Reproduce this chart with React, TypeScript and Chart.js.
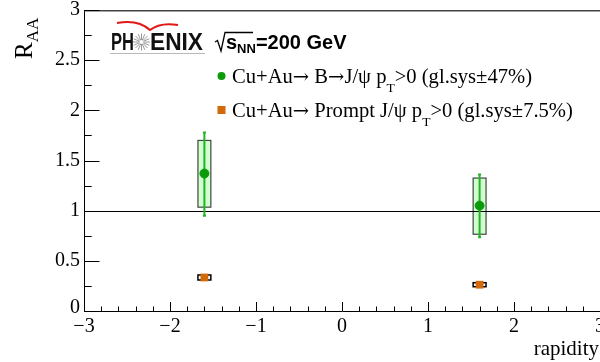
import React, { useEffect, useRef } from "react";
import { Chart, registerables } from "chart.js";
Chart.register(...registerables);

// ---- data ----
const rapidity = [-1.6, 1.6];
const bRAA = [1.37, 1.05];
const bStatLo = [0.95, 0.735];
const bStatHi = [1.78, 1.36];
const bSysLo = [1.035, 0.765];
const bSysHi = [1.7, 1.325];
const pRAA = [0.334, 0.262];
const pSysLo = [0.309, 0.242];
const pSysHi = [0.359, 0.282];
const sysHalfWidth = 0.075;

const xMajorTicks = [-3, -2, -1, 0, 1, 2, 3];
const xTickLabels = ["\u22123", "\u22122", "\u22121", "0", "1", "2", "3"];
const yMajorTicks = [0, 0.5, 1, 1.5, 2, 2.5, 3];
const yTickLabels = ["0", "0.5", "1", "1.5", "2", "2.5", "3"];

// legend segments: [text, kind] kind: n = normal, a = arrow, s = subscript
const legend1: [string, string][] = [
  ["Cu+Au", "n"], ["\u2192", "a"], [" B", "n"], ["\u2192", "a"], ["J/\u03c8 p", "n"], ["T", "s"], [">0 (gl.sys\u00b147%)", "n"],
];
const legend2: [string, string][] = [
  ["Cu+Au", "n"], ["\u2192", "a"], [" Prompt J/\u03c8 p", "n"], ["T", "s"], [">0 (gl.sys\u00b17.5%)", "n"],
];

const GREEN = "#0a9a0a";
const GREEN_BAR = "#22b422";
const GREEN_BOX = "rgba(200,255,200,0.85)";
const ORANGE = "#d2690a";
const SERIF = "'Liberation Serif', 'Times New Roman', serif";
const SANS = "'Liberation Sans', Arial, sans-serif";
const ARROWF = "'DejaVu Serif', serif";

const drawPlugin = {
  id: "rootStyle",
  beforeDatasetsDraw(chart: any) {
    const ctx = chart.ctx as CanvasRenderingContext2D;
    const xs = chart.scales.x;
    const ys = chart.scales.y;
    ctx.save();
    for (let i = 0; i < rapidity.length; i++) {
      const x0 = xs.getPixelForValue(rapidity[i] - sysHalfWidth);
      const x1 = xs.getPixelForValue(rapidity[i] + sysHalfWidth);
      const y0 = ys.getPixelForValue(bSysHi[i]);
      const y1 = ys.getPixelForValue(bSysLo[i]);
      ctx.fillStyle = GREEN_BOX;
      ctx.fillRect(x0, y0, x1 - x0, y1 - y0);
      ctx.strokeStyle = "#444";
      ctx.lineWidth = 1.2;
      ctx.strokeRect(x0, y0, x1 - x0, y1 - y0);
    }
    for (let i = 0; i < rapidity.length; i++) {
      const x0 = xs.getPixelForValue(rapidity[i] - sysHalfWidth);
      const x1 = xs.getPixelForValue(rapidity[i] + sysHalfWidth);
      const y0 = ys.getPixelForValue(pSysHi[i]);
      const y1 = ys.getPixelForValue(pSysLo[i]);
      ctx.fillStyle = "#fff";
      ctx.fillRect(x0, y0, x1 - x0, y1 - y0);
      ctx.strokeStyle = "#000";
      ctx.lineWidth = 1.5;
      ctx.strokeRect(x0, y0, x1 - x0, y1 - y0);
    }
    ctx.strokeStyle = "#000";
    ctx.lineWidth = 1;
    const y1p = Math.round(ys.getPixelForValue(1)) + 0.5;
    ctx.beginPath();
    ctx.moveTo(chart.chartArea.left, y1p);
    ctx.lineTo(chart.chartArea.right, y1p);
    ctx.stroke();
    for (let i = 0; i < rapidity.length; i++) {
      const x = xs.getPixelForValue(rapidity[i]);
      const ya = ys.getPixelForValue(bStatHi[i]);
      const yb = ys.getPixelForValue(bStatLo[i]);
      ctx.strokeStyle = GREEN_BAR;
      ctx.lineWidth = 2;
      ctx.beginPath();
      ctx.moveTo(x, ya);
      ctx.lineTo(x, yb);
      ctx.stroke();
      ctx.beginPath();
      ctx.moveTo(x - 1.5, ya);
      ctx.lineTo(x + 1.5, ya);
      ctx.moveTo(x - 1.5, yb);
      ctx.lineTo(x + 1.5, yb);
      ctx.stroke();
    }
    ctx.restore();
  },
  afterDraw(chart: any) {
    const ctx = chart.ctx as CanvasRenderingContext2D;
    const xs = chart.scales.x;
    const ys = chart.scales.y;
    const { left, right, top, bottom } = chart.chartArea;
    ctx.save();
    ctx.strokeStyle = "#000";
    ctx.lineWidth = 1;
    ctx.beginPath();
    ctx.moveTo(left + 0.5, top);
    ctx.lineTo(left + 0.5, bottom + 0.5);
    ctx.lineTo(right, bottom + 0.5);
    ctx.stroke();
    ctx.strokeStyle = "#444";
    ctx.lineWidth = 1.5;
    ctx.beginPath();
    ctx.moveTo(left, top + 0.75);
    ctx.lineTo(right, top + 0.75);
    ctx.stroke();

    ctx.strokeStyle = "#000";
    ctx.lineWidth = 1;
    ctx.beginPath();
    for (let k = 0; k <= 30; k++) {
      const v = -3 + k * 0.2;
      const px = Math.round(xs.getPixelForValue(v)) + 0.5;
      const len = k % 5 === 0 ? 9 : 4.5;
      ctx.moveTo(px, bottom);
      ctx.lineTo(px, bottom - len);
    }
    for (let k = 0; k <= 12; k++) {
      const v = k * 0.25;
      const py = Math.round(ys.getPixelForValue(v)) + 0.5;
      const len = k % 2 === 0 ? 15.5 : 7.7;
      ctx.moveTo(left, py);
      ctx.lineTo(left + len, py);
    }
    ctx.stroke();

    ctx.fillStyle = "#000";
    ctx.font = `20px ${SERIF}`;
    ctx.textAlign = "center";
    ctx.textBaseline = "top";
    xMajorTicks.forEach((v, i) => {
      ctx.fillText(xTickLabels[i], xs.getPixelForValue(v), bottom + 6);
    });
    ctx.textAlign = "right";
    ctx.textBaseline = "middle";
    yMajorTicks.forEach((v, i) => {
      const py = ys.getPixelForValue(v) - (i === 0 ? 3 : 0);
      ctx.fillText(yTickLabels[i], left - 4, py);
    });

    ctx.textBaseline = "alphabetic";
    ctx.textAlign = "right";
    ctx.font = `21px ${SERIF}`;
    ctx.fillText("rapidity", 599, 355);

    ctx.save();
    ctx.translate(32, 59);
    ctx.rotate(-Math.PI / 2);
    ctx.textAlign = "left";
    ctx.font = `25px ${SERIF}`;
    ctx.fillText("R", 0, 0);
    const rw = ctx.measureText("R").width;
    ctx.font = `17px ${SERIF}`;
    ctx.fillText("AA", rw, 6);
    ctx.restore();

    // PHENIX logo
    ctx.textAlign = "left";
    ctx.font = `bold 23px ${SANS}`;
    ctx.fillStyle = "#111";
    ctx.fillText("PH", 111, 50, 23);
    ctx.fillText("ENIX", 150, 50, 53);
    ctx.strokeStyle = "#9a9a9a";
    ctx.lineWidth = 1;
    ctx.beginPath();
    const cx = 141.5, cy = 42;
    for (let k = 0; k < 16; k++) {
      const a = (k * Math.PI) / 8;
      ctx.moveTo(cx + Math.cos(a) * 2, cy + Math.sin(a) * 2);
      ctx.lineTo(cx + Math.cos(a) * 8.5, cy + Math.sin(a) * 8.5);
    }
    ctx.stroke();
    ctx.strokeStyle = "#e01818";
    ctx.lineWidth = 2;
    ctx.beginPath();
    ctx.moveTo(117, 23);
    ctx.quadraticCurveTo(138, 19, 150, 30);
    ctx.quadraticCurveTo(160, 22, 178, 25);
    ctx.stroke();
    ctx.strokeStyle = "#bbb";
    ctx.lineWidth = 1;
    ctx.beginPath();
    ctx.moveTo(110, 53.5);
    ctx.lineTo(205, 53.5);
    ctx.stroke();

    // sqrt(s_NN)=200 GeV
    ctx.strokeStyle = "#000";
    ctx.lineWidth = 1.3;
    ctx.beginPath();
    ctx.moveTo(215, 42);
    ctx.lineTo(217.5, 40.5);
    ctx.lineTo(221, 51);
    ctx.lineTo(225, 32.5);
    ctx.lineTo(253, 32.5);
    ctx.stroke();
    ctx.fillStyle = "#000";
    ctx.font = `bold 20px ${SANS}`;
    ctx.fillText("s", 226, 49);
    let tx = 226 + ctx.measureText("s").width;
    ctx.font = `bold 13px ${SANS}`;
    ctx.fillText("NN", tx, 53);
    tx += ctx.measureText("NN").width;
    ctx.font = `bold 20px ${SANS}`;
    ctx.fillText("=200 GeV", tx, 49);

    // legend
    const drawLegendText = (segs: [string, string][], x: number, y: number) => {
      ctx.fillStyle = "#000";
      let xx = x;
      for (const [t, kind] of segs) {
        let dy = 0;
        if (kind === "a") ctx.font = `19.5px ${ARROWF}`;
        else if (kind === "s") { ctx.font = `13.5px ${SERIF}`; dy = 9; }
        else ctx.font = `20.6px ${SERIF}`;
        ctx.fillText(t, xx, y + dy);
        xx += ctx.measureText(t).width;
      }
    };
    ctx.fillStyle = GREEN;
    ctx.beginPath();
    ctx.arc(221.5, 76, 4, 0, Math.PI * 2);
    ctx.fill();
    drawLegendText(legend1, 232, 83);
    ctx.fillStyle = ORANGE;
    ctx.fillRect(217.5, 106, 8, 8);
    drawLegendText(legend2, 232, 117);

    ctx.restore();
  },
};

export default function App() {
  const ref = useRef<HTMLCanvasElement>(null);
  useEffect(() => {
    if (!ref.current) return;
    const chart = new Chart(ref.current, {
      type: "scatter",
      data: {
        datasets: [
          {
            label: "B->J/psi",
            data: rapidity.map((x, i) => ({ x, y: bRAA[i] })),
            backgroundColor: GREEN,
            borderColor: GREEN,
            pointRadius: 4.5,
            pointStyle: "circle",
          },
          {
            label: "Prompt J/psi",
            data: rapidity.map((x, i) => ({ x, y: pRAA[i] })),
            backgroundColor: ORANGE,
            borderColor: ORANGE,
            borderWidth: 0,
            pointRadius: 5.5,
            pointStyle: "rect",
          },
        ],
      },
      options: {
        animation: false,
        responsive: false,
        maintainAspectRatio: false,
        layout: { autoPadding: false, padding: { left: 84, top: 10, right: 0, bottom: 51 } },
        scales: {
          x: { type: "linear", min: -3, max: 3, display: false },
          y: { type: "linear", min: 0, max: 3, display: false },
        },
        plugins: { legend: { display: false }, tooltip: { enabled: false } },
      },
      plugins: [drawPlugin],
    });
    return () => chart.destroy();
  }, []);
  return (
    <div style={{ position: "fixed", left: 0, top: 0, width: 600, height: 362, background: "#fff" }}>
      <canvas ref={ref} width={600} height={362} style={{ width: 600, height: 362 }} />
    </div>
  );
}
